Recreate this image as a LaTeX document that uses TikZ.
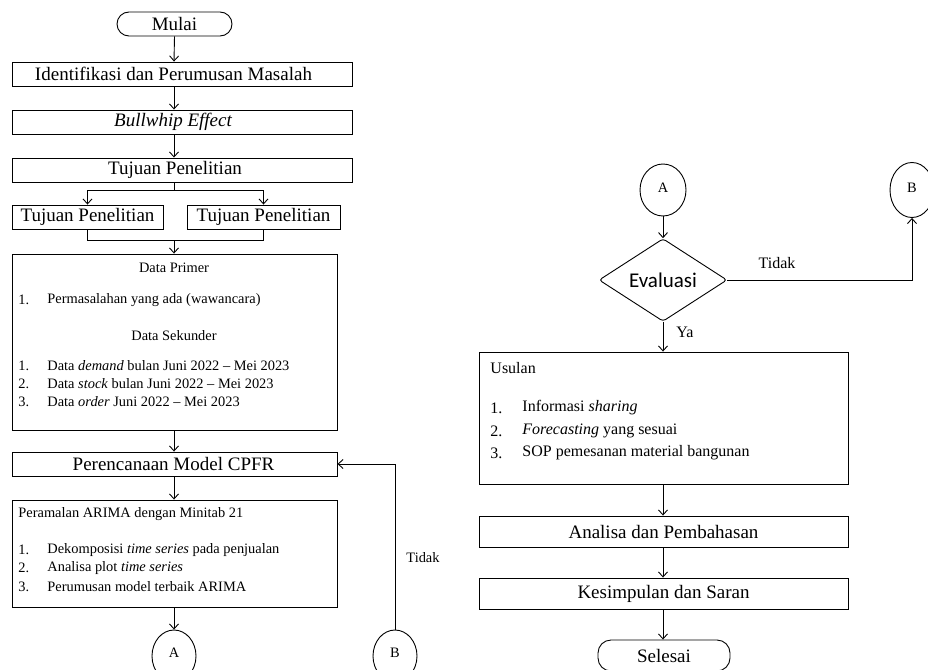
\documentclass[tikz,border=0pt]{standalone}
\usepackage{fontspec}
\setmainfont{Liberation Serif}
\newfontfamily\evalfont{Carlito}
\usetikzlibrary{arrows.meta,shapes.geometric}
\begin{document}
\begin{tikzpicture}[x=1pt,y=-1pt,line width=0.9pt,
  box/.style={draw,rectangle,inner sep=0pt},
  term/.style={draw,rectangle,rounded corners=12pt,inner sep=0pt},
  conn/.style={draw,ellipse,inner sep=0pt},
  big/.style={font=\fontsize{19}{22}\selectfont,inner sep=0pt},
  small/.style={font=\fontsize{14.4}{16}\selectfont,inner sep=0pt},
  mid/.style={font=\fontsize{16}{18}\selectfont,inner sep=0pt},
  arr/.style={-{Straight Barb[length=5pt,width=9pt]}}]
\useasboundingbox (0,0) rectangle (928,669);

% ---------- left column ----------
\coordinate (ax) at (174,0);
\node[term,minimum width=115pt,minimum height=24pt] (mulai) at (174.5,24) {};
\node[big] (mulait) at (174.5,24) {Mulai};

\node[box,minimum width=340pt,minimum height=24pt] (ident) at (182,74) {};
\node[big] (identt) at (173.5,74) {Identifikasi dan Perumusan Masalah};

\node[box,minimum width=340pt,minimum height=24pt] (bull) at (182,122) {};
\node[big] (bullt) at (173,122) {\itshape Bullwhip Effect};

\node[box,minimum width=340pt,minimum height=24pt] (tuj) at (182,170) {};
\node[big] (tujt) at (175,170) {Tujuan Penelitian};

\node[box,minimum width=151pt,minimum height=24pt] (tl) at (87.5,217) {};
\node[big] (tlt) at (87.5,217) {Tujuan Penelitian};
\node[box,minimum width=153pt,minimum height=24pt] (tr) at (263.5,217) {};
\node[big] (trt) at (263.5,217) {Tujuan Penelitian};

\node[box,minimum width=325pt,minimum height=176pt] (data) at (174.5,342) {};
\node[small] (dp) at (174,268) {Data Primer};
\node[small,anchor=west] (dp1n) at (18,300) {1.};
\node[small,anchor=west] (dp1) at (47,300) {Permasalahan yang ada (wawancara)};
\node[small] (ds) at (174,336) {Data Sekunder};
\node[small,anchor=west] (ds1n) at (18,366) {1.};
\node[small,anchor=west] (ds1) at (47,366) {Data \textit{demand} bulan Juni 2022 -- Mei 2023};
\node[small,anchor=west] (ds2n) at (18,384) {2.};
\node[small,anchor=west] (ds2) at (47,384) {Data \textit{stock} bulan Juni 2022 -- Mei 2023};
\node[small,anchor=west] (ds3n) at (18,402) {3.};
\node[small,anchor=west] (ds3) at (47,402) {Data \textit{order} Juni 2022 -- Mei 2023};

\node[box,minimum width=325pt,minimum height=24pt] (cpfr) at (174.5,464) {};
\node[big] (cpfrt) at (173.5,464) {Perencanaan Model CPFR};

\node[box,minimum width=325pt,minimum height=107pt] (arima) at (174.5,553.5) {};
\node[small,anchor=west] (ar0) at (18,514) {Peramalan ARIMA dengan Minitab 21};
\node[small,anchor=west] (ar1n) at (18,550) {1.};
\node[small,anchor=west] (ar1) at (47,550) {Dekomposisi \textit{time series} pada penjualan};
\node[small,anchor=west] (ar2n) at (18,568) {2.};
\node[small,anchor=west] (ar2) at (47,568) {Analisa plot \textit{time series}};
\node[small,anchor=west] (ar3n) at (18,587) {3.};
\node[small,anchor=west] (ar3) at (47,587) {Perumusan model terbaik ARIMA};

\node[conn,minimum width=44pt,minimum height=52pt] (ca) at (174,656) {};
\node[small] (cat) at (174,653) {A};
\node[conn,minimum width=44pt,minimum height=52pt] (cb) at (395,656) {};
\node[small] (cbt) at (395,653) {B};
\node[small] (tidak1) at (423,558) {Tidak};

\draw[arr] (mulai.south) -- (ax |- ident.north);
\draw[arr] (ax |- ident.south) -- (ax |- bull.north);
\draw[arr] (ax |- bull.south) -- (ax |- tuj.north);
\coordinate (sp) at (174,190);
\draw (ax |- tuj.south) -- (sp);
\draw[arr] (sp) -| (tl.north);
\draw[arr] (sp) -| (tr.north);
\coordinate (mg) at (174,240);
\draw (tl.south) |- (mg);
\draw (tr.south) |- (mg);
\draw[arr] (mg) -- (ax |- data.north);
\draw[arr] (ax |- data.south) -- (ax |- cpfr.north);
\draw[arr] (ax |- cpfr.south) -- (ax |- arima.north);
\draw[arr] (ax |- arima.south) -- (ca.north);
\draw[arr] (cb.north) |- (cpfr.east);

% ---------- right column ----------
\node[conn,minimum width=46pt,minimum height=52pt] (ra) at (663,190) {};
\node[small] (rat) at (663,188) {A};
\node[conn,minimum width=44pt,minimum height=55pt] (rb) at (912,190) {};
\node[small] (rbt) at (912,188) {B};

\node[draw,diamond,rounded corners=3pt,minimum width=128pt,minimum height=74pt,inner sep=0pt,
      font=\evalfont\fontsize{21}{24}\selectfont] (ev) at (663,280) {Evaluasi};
\node[mid] (tidak2) at (777,263) {Tidak};
\node[mid] (ya) at (685,332) {Ya};

\node[box,minimum width=369pt,minimum height=132pt] (usul) at (663.5,418) {};
\node[mid,anchor=west] (us0) at (490,368) {Usulan};
\node[mid,anchor=west] (us1n) at (490,408) {1.};
\node[mid,anchor=west] (us1) at (522,408) {Informasi \textit{sharing}};
\node[mid,anchor=west] (us2n) at (490,431) {2.};
\node[mid,anchor=west] (us2) at (522,431) {\textit{Forecasting} yang sesuai};
\node[mid,anchor=west] (us3n) at (490,453) {3.};
\node[mid,anchor=west] (us3) at (522,453) {SOP pemesanan material bangunan};

\node[box,minimum width=369pt,minimum height=31pt,big] (ana) at (663.5,531.5) {Analisa dan Pembahasan};
\node[box,minimum width=369pt,minimum height=31pt,big] (kes) at (663.5,593.5) {Kesimpulan dan Saran};
\node[term,minimum width=132pt,minimum height=31pt,rounded corners=13pt,big] (sel) at (664,655.5) {Selesai};

\draw[arr] (ra.south) -- (ev.north);
\draw[arr] (ev.east) -| (rb.south);
\draw[arr] (ev.south) -- (ev.south |- usul.north);
\draw[arr] (ev.south |- usul.south) -- (ev.south |- ana.north);
\draw[arr] (ev.south |- ana.south) -- (ev.south |- kes.north);
\draw[arr] (ev.south |- kes.south) -- (ev.south |- sel.north);
\end{tikzpicture}
\end{document}
